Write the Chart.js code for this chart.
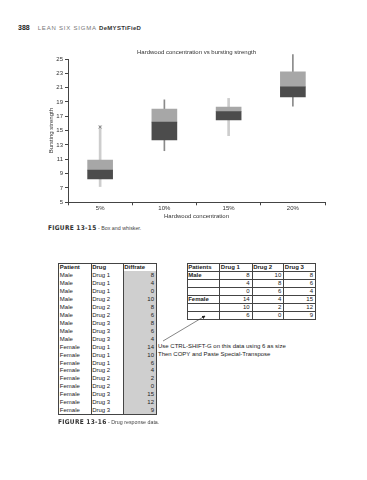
<!DOCTYPE html>
<html><head><meta charset="utf-8">
<script src="https://cdn.jsdelivr.net/npm/chart.js@4.4.1/dist/chart.umd.min.js"></script>
<style>
html,body{margin:0;padding:0;background:#fff;width:367px;height:480px;overflow:hidden;position:relative;font-family:"Liberation Sans",Arial,sans-serif;color:#222}
.abs{position:absolute;white-space:nowrap}
#hdr{left:18px;top:23px;font-size:7px;line-height:9px}
#hdr .num{font-weight:bold;color:#222;margin-right:8px}
#hdr .ls{color:#777;letter-spacing:0.8px;font-size:6px}
#hdr .dm{font-weight:bold;letter-spacing:0.3px;font-size:6px;color:#333}
.cap{font-size:5.3px;color:#444;line-height:8px}
.cap b{font-family:"DejaVu Sans Condensed","DejaVu Sans",sans-serif;font-size:6.5px;letter-spacing:0.3px;color:#333}
.cell{position:absolute;font-size:6px;line-height:8px;height:8px;white-space:nowrap;color:#222}
.ln{position:absolute;background:#444}
#note{font-size:6px;line-height:8px;color:#222}
canvas{position:absolute;left:0;top:40px}
</style></head><body>
<div id="hdr" class="abs"><span class="num">388</span><span class="ls">LEAN SIX SIGMA </span><span class="dm">DeMYSTiFieD</span></div>
<canvas id="c" width="367" height="184"></canvas>
<div class="abs cap" style="left:48px;top:224px"><b>FIGURE 13-15</b> - Box and whisker.</div>
<div id="tables"></div>
<div id="note" class="abs" style="left:158px;top:342px">Use CTRL-SHIFT-G on this data using 6 as size<br>Then COPY and Paste Special-Transpose</div>
<svg class="abs" style="left:0;top:0" width="367" height="480">
<defs><marker id="ah" markerWidth="6" markerHeight="6" refX="5" refY="3" orient="auto"><path d="M0,0 L6,3 L0,6 z" fill="#222"/></marker></defs>
<line x1="163" y1="341" x2="205" y2="316" stroke="#333" stroke-width="0.6" marker-end="url(#ah)"/>
</svg>
<div class="abs cap" style="left:58px;top:418px"><b>FIGURE 13-16</b> - Drug response data.</div>
<script>
// ---- chart data ----
const categories = ['5%', '10%', '15%', '20%'];
const whiskerLow  = [7.2, 12.2, 14.3, 18.4];
const q1          = [8.25, 13.7, 16.5, 19.7];
const median      = [9.5, 16.2, 17.65, 21.1];
const q3          = [10.9, 18.0, 18.3, 23.2];
const whiskerHigh = [15.7, 19.3, 19.5, 25.6];
const outlier     = [15.5, null, null, null];
const yMin = 5, yMax = 25, yStep = 2;

// ---- table data ----
const patientCol = ['Male','Male','Male','Male','Male','Male','Male','Male','Male','Female','Female','Female','Female','Female','Female','Female','Female','Female'];
const drugCol = ['Drug 1','Drug 1','Drug 1','Drug 2','Drug 2','Drug 2','Drug 3','Drug 3','Drug 3','Drug 1','Drug 1','Drug 1','Drug 2','Drug 2','Drug 2','Drug 3','Drug 3','Drug 3'];
const diffrate = [8,4,0,10,8,6,8,6,4,14,10,6,4,2,0,15,12,9];
const leftHeaders = ['Patient','Drug','Diffrate'];
const rightHeaders = ['Patients','Drug 1','Drug 2','Drug 3'];
const rightGroups = ['Male','','','Female','',''];
const drug1 = [8,4,0,14,10,6];
const drug2 = [10,8,6,4,2,0];
const drug3 = [8,6,4,15,12,9];

// ---- build tables ----
const T = document.getElementById('tables');
function line(x,y,w,h){const d=document.createElement('div');d.className='ln';Object.assign(d.style,{left:x+'px',top:y+'px',width:w+'px',height:h+'px'});T.appendChild(d);}
function cell(txt,x,y,w,align,bold){const d=document.createElement('div');d.className='cell';d.textContent=txt;Object.assign(d.style,{left:x+'px',top:y+'px',width:w+'px',textAlign:align,fontWeight:bold?'bold':'normal'});T.appendChild(d);}
const rh = 7.96;
// left table
(function(){
  const xs=[58.3,90.7,122.7,156], top=263, n=patientCol.length+1, bottom=top+n*rh;
  const g=document.createElement('div');g.className='ln';Object.assign(g.style,{left:xs[2]+'px',top:(top+rh)+'px',width:(xs[3]-xs[2])+'px',height:(bottom-top-rh)+'px',background:'#cfcfcf'});T.appendChild(g);
  line(xs[0],top,xs[3]-xs[0],0.7); line(xs[0],bottom,xs[3]-xs[0]+0.7,0.7);
  xs.forEach(x=>line(x,top,0.7,bottom-top));
  leftHeaders.forEach((h,i)=>cell(h,xs[i]+1.5,top,xs[i+1]-xs[i]-3,'left',true));
  for(let r=0;r<patientCol.length;r++){
    const y=top+(r+1)*rh;
    cell(patientCol[r],xs[0]+1.5,y,30,'left',false);
    cell(drugCol[r],xs[1]+1.5,y,30,'left',false);
    cell(String(diffrate[r]),xs[2],y,xs[3]-xs[2]-2,'right',false);
  }
})();
// right table
(function(){
  const xs=[186.7,219.3,251.7,283.3,315], top=263.3, n=drug1.length+1, bottom=top+n*rh;
  for(let r=0;r<=n;r++) line(xs[0],top+r*rh,xs[4]-xs[0]+0.7,0.7);
  xs.forEach(x=>line(x,top,0.7,bottom-top));
  rightHeaders.forEach((h,i)=>cell(h,xs[i]+1.5,top,xs[i+1]-xs[i]-3,'left',true));
  for(let r=0;r<drug1.length;r++){
    const y=top+(r+1)*rh;
    cell(rightGroups[r],xs[0]+1.5,y,30,'left',true);
    [drug1,drug2,drug3].forEach((arr,c)=>cell(String(arr[r]),xs[c+1],y,xs[c+2]-xs[c+1]-2,'right',false));
  }
})();

// ---- chart ----
const FONT = {family:'"Liberation Sans", Arial, sans-serif', size:6, lineHeight:1.2, weight:'normal'};
const light = categories.map((c,i)=> i%2===0 ? [whiskerLow[i], whiskerHigh[i]] : null);
const dark  = categories.map((c,i)=> i%2===1 ? [whiskerLow[i], whiskerHigh[i]] : null);
new Chart(document.getElementById('c'), {
  type:'bar',
  data:{
    labels:categories,
    datasets:[
      {data:light, backgroundColor:'#cdcdcd', barThickness:2, grouped:false, order:3, clip:false, borderWidth:0},
      {data:dark, backgroundColor:'#8a8a8a', barThickness:1, grouped:false, order:3, clip:false, borderWidth:0},
      {data:categories.map((c,i)=>[q1[i],median[i]]), backgroundColor:'#4c4c4c', barThickness:25, grouped:false, order:2, borderWidth:0},
      {data:categories.map((c,i)=>[median[i],q3[i]]), backgroundColor:'#a7a7a7', barThickness:25, grouped:false, order:2, borderWidth:0},
      {type:'line', data:outlier, showLine:false, pointStyle:'crossRot', pointRadius:2, borderColor:'#888', borderWidth:1, order:1, clip:false}
    ]
  },
  options:{
    responsive:false, animation:false, devicePixelRatio:1,
    layout:{padding:{left:48, right:42, top:0, bottom:3.7}},
    plugins:{
      legend:{display:false}, tooltip:{enabled:false},
      title:{display:true, text:'Hardwood concentration vs bursting strength', fullSize:false, color:'#333', font:FONT, padding:{top:8.7, bottom:3.1}}
    },
    scales:{
      x:{
        offset:true,
        grid:{offset:true, drawOnChartArea:false, drawTicks:true, tickLength:3, color:'#444'},
        border:{color:'#444', width:1},
        ticks:{font:FONT, color:'#333', padding:-0.5, maxRotation:0},
        title:{display:true, text:'Hardwood concentration', font:FONT, color:'#333', padding:0},
        afterFit:s=>{s.height=18;}
      },
      y:{
        min:yMin, max:yMax,
        grid:{drawOnChartArea:false, drawTicks:true, tickLength:3, color:'#444'},
        border:{color:'#444', width:1},
        ticks:{stepSize:yStep, font:FONT, color:'#333', padding:2},
        title:{display:true, text:'Bursting strength', font:FONT, color:'#333', padding:0},
        afterFit:s=>{s.width=20;}
      }
    }
  }
});
</script>
</body></html>
